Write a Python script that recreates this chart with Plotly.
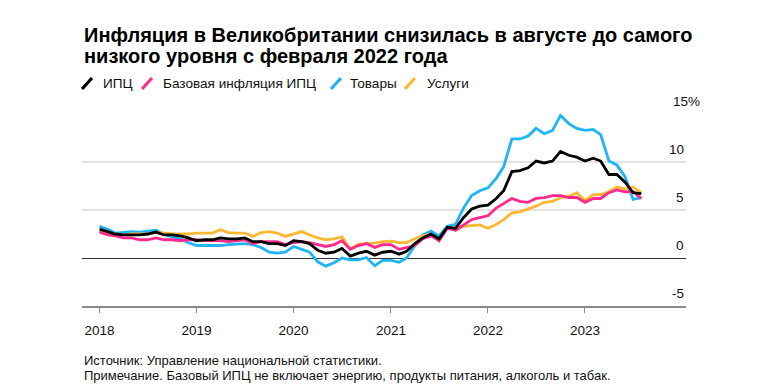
import plotly.graph_objects as go
import pandas as pd

months = pd.date_range("2018-01-01", "2023-08-01", freq="MS")

cpi = [3.0, 2.7, 2.5, 2.4, 2.4, 2.4, 2.5, 2.7, 2.4, 2.4, 2.3, 2.1,
       1.8, 1.9, 1.9, 2.1, 2.0, 2.0, 2.1, 1.7, 1.7, 1.5, 1.5, 1.3,
       1.8, 1.7, 1.5, 0.8, 0.5, 0.6, 1.0, 0.2, 0.5, 0.7, 0.3, 0.6,
       0.7, 0.4, 0.7, 1.5, 2.1, 2.5, 2.0, 3.2, 3.1, 4.2, 5.1, 5.4,
       5.5, 6.2, 7.0, 9.0, 9.1, 9.4, 10.1, 9.9, 10.1, 11.1, 10.7, 10.5,
       10.1, 10.4, 10.1, 8.7, 8.7, 7.9, 6.8, 6.7]

core = [2.7, 2.4, 2.3, 2.1, 2.1, 1.9, 1.9, 2.1, 1.9, 1.9, 1.8, 1.9,
        1.9, 1.8, 1.8, 1.8, 1.7, 1.8, 1.9, 1.5, 1.7, 1.7, 1.7, 1.4,
        1.6, 1.7, 1.6, 1.4, 1.2, 1.4, 1.8, 0.9, 1.3, 1.5, 1.1, 1.4,
        1.4, 0.9, 1.1, 1.3, 2.0, 2.3, 1.8, 3.1, 2.9, 3.4, 4.0, 4.2,
        4.4, 5.2, 5.7, 6.2, 5.9, 5.8, 6.2, 6.3, 6.5, 6.5, 6.3, 6.3,
        5.8, 6.2, 6.2, 6.8, 7.1, 6.9, 6.9, 6.2]

goods = [3.3, 3.0, 2.6, 2.7, 2.75, 2.7, 2.8, 2.9, 2.5, 2.2, 2.0, 1.6,
         1.3, 1.3, 1.3, 1.3, 1.4, 1.45, 1.5, 1.4, 1.1, 0.6, 0.5, 0.6,
         1.2, 0.9, 0.6, -0.4, -0.85, -0.5, 0.0, -0.2, -0.2, 0.05, -0.8, -0.25,
         -0.25, -0.45, 0.0, 1.3, 2.4, 2.8, 2.3, 3.3, 3.5, 5.2, 6.5, 7.0,
         7.3, 8.3, 9.5, 12.4, 12.4, 12.7, 13.5, 12.95, 13.3, 14.85, 14.0, 13.5,
         13.3, 13.4, 12.85, 10.1, 9.7, 8.45, 6.1, 6.3]

services = [2.8, 2.6, 2.5, 2.4, 2.5, 2.5, 2.5, 2.7, 2.6, 2.5, 2.5, 2.5,
            2.6, 2.6, 2.6, 2.95, 2.65, 2.6, 2.6, 2.25, 2.65, 2.75, 2.6, 2.25,
            2.5, 2.75, 2.4, 2.1, 1.9, 2.0, 2.2, 0.95, 1.45, 1.5, 1.55, 1.7,
            1.75, 1.6, 1.6, 2.0, 2.3, 2.5, 1.75, 3.15, 2.9, 3.3, 3.35, 3.45,
            3.1, 3.5, 4.0, 4.7, 4.8, 5.1, 5.4, 5.8, 5.9, 6.3, 6.4, 6.8,
            6.0, 6.6, 6.6, 6.9, 7.4, 7.2, 7.4, 6.8]

series_names = ["ИПЦ", "Базовая инфляция ИПЦ", "Товары", "Услуги"]
series_colors = ["#000000", "#ff2a8e", "#1eb4f5", "#fdb832"]

x_tick_years = ["2018-01-01", "2019-01-01", "2020-01-01", "2021-01-01", "2022-01-01", "2023-01-01"]
x_tick_labels = ["2018", "2019", "2020", "2021", "2022", "2023"]
y_ticks = [-5, 0, 5, 10, 15]
y_tick_text = ["-5", "0", "5", "10", "15%"]

title_lines = ["Инфляция в Великобритании снизилась в августе до самого",
               "низкого уровня с февраля 2022 года"]
footer_lines = ["Источник: Управление национальной статистики.",
                "Примечание. Базовый ИПЦ не включает энергию, продукты питания, алкоголь и табак."]

OFF = 8  # default page body margin
W, H = 761 - OFF, 391 - OFF
# plot area in page pixels
L_pg, R_pg, T_pg, B_pg = 82, 686, 114, 306
L, R, T, B = L_pg - OFF, R_pg - OFF, T_pg - OFF, B_pg - OFF
FONT = "Liberation Sans, Arial, sans-serif"


def px(x):
    return (x - L_pg) / (R_pg - L_pg)


def py(y):
    return (B_pg - y) / (B_pg - T_pg)


fig = go.Figure()
order = [2, 3, 1, 0]
data = [cpi, core, goods, services]
for i in order:
    fig.add_trace(go.Scatter(x=months, y=data[i], mode="lines", name=series_names[i],
                             line=dict(color=series_colors[i], width=2.8),
                             showlegend=False, hoverinfo="skip"))

annotations = []
shapes = []

# title
for line, yy in zip(title_lines, [34.5, 56]):
    annotations.append(dict(text="<b>" + line + "</b>", x=px(82), y=py(yy), xref="paper", yref="paper",
                            xanchor="left", yanchor="middle", showarrow=False,
                            font=dict(family=FONT, size=20, color="#000")))

# legend
leg_slash_x = [82, 142, 331, 405]
leg_text_x = [101, 161, 348, 425]
for i in range(4):
    shapes.append(dict(type="line", xref="paper", yref="paper",
                       x0=px(leg_slash_x[i]), y0=py(89), x1=px(leg_slash_x[i] + 10), y1=py(78),
                       line=dict(color=series_colors[i], width=3.2)))
    annotations.append(dict(text=series_names[i], x=px(leg_text_x[i]), y=py(83.5), xref="paper", yref="paper",
                            xanchor="left", yanchor="middle", showarrow=False,
                            font=dict(family=FONT, size=13.6, color="#111")))

# y tick labels
for v, t in zip(y_ticks, y_tick_text):
    if t.endswith("%"):
        annotations.append(dict(text=t, x=px(671), y=v, xref="paper", yref="y", yshift=13,
                                xanchor="left", yanchor="middle", showarrow=False,
                                font=dict(family=FONT, size=13.5, color="#111")))
    else:
        annotations.append(dict(text=t, x=1, y=v, xref="paper", yref="y", yshift=13,
                                xanchor="right", yanchor="middle", showarrow=False,
                                font=dict(family=FONT, size=13.5, color="#111")))

# footer
for line, yy in zip(footer_lines, [360, 375]):
    annotations.append(dict(text=line, x=px(82), y=py(yy), xref="paper", yref="paper",
                            xanchor="left", yanchor="middle", showarrow=False,
                            font=dict(family=FONT, size=13, color="#111")))

fig.update_layout(
    width=W, height=H,
    margin=dict(l=L, r=W - R, t=T, b=H - B, pad=0),
    paper_bgcolor="white", plot_bgcolor="white",
    font=dict(family=FONT, size=13.5, color="#111"),
    annotations=annotations, shapes=shapes,
    xaxis=dict(type="date", range=["2017-10-27", "2024-01-16"],
               tickvals=x_tick_years, ticktext=x_tick_labels,
               showgrid=False, zeroline=False,
               showline=True, linecolor="#8a8a8a", linewidth=2,
               ticks="outside", ticklen=5, tickwidth=1, tickcolor="#8a8a8a",
               ticklabelstandoff=6,
               tickfont=dict(family=FONT, size=13.5, color="#111")),
    yaxis=dict(range=[-5, 15], tickvals=y_ticks, showticklabels=False, side="right",
               showgrid=True, gridcolor="#e3e3e3", gridwidth=2,
               zeroline=True, zerolinecolor="#333333", zerolinewidth=1.2,
               showline=False, ticks=""),
)

fig.write_html("out.html")
